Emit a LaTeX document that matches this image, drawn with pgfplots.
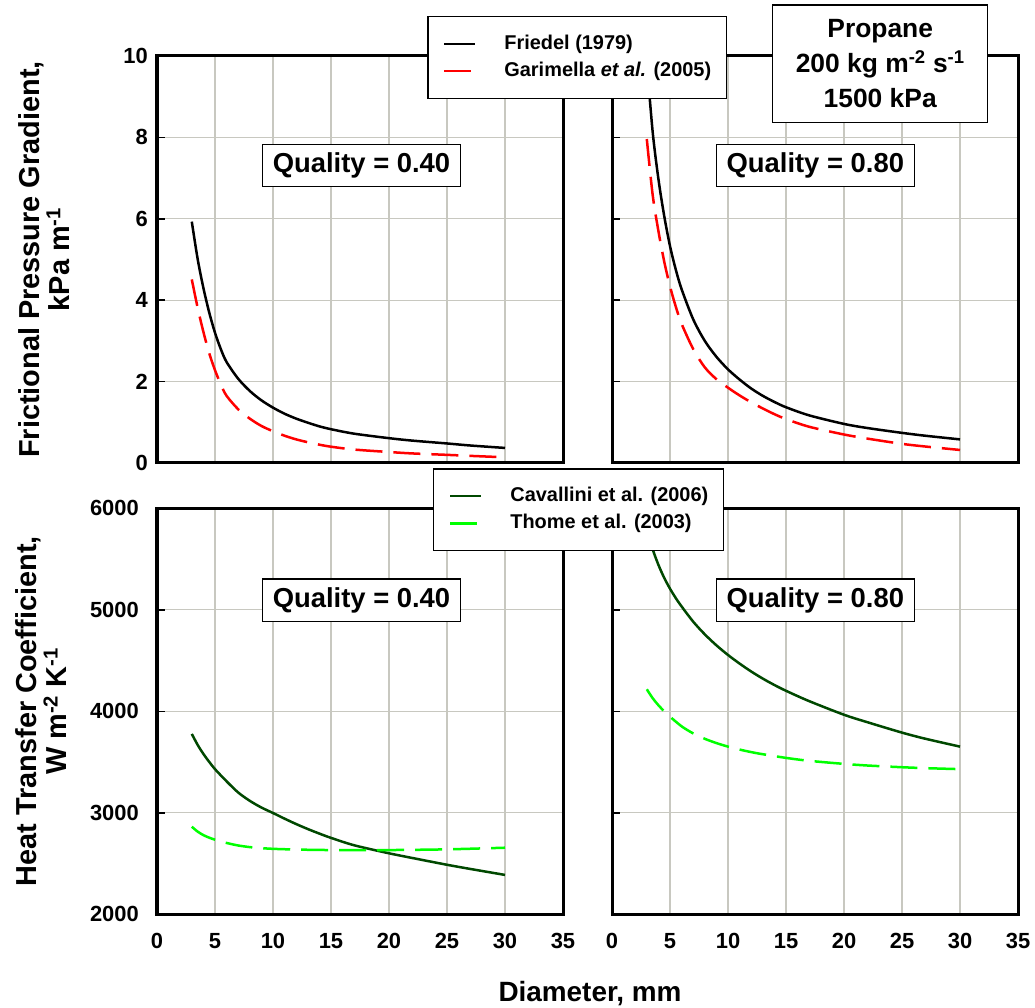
\documentclass[border=0pt]{standalone}
\usepackage{pgfplots}
\pgfplotsset{compat=1.18}
\usepackage{fontspec}
\setmainfont{Liberation Sans}
\definecolor{dkgreen}{RGB}{0,72,0}
\definecolor{ltgreen}{RGB}{0,255,0}
\definecolor{gridc}{RGB}{200,200,192}
\newcommand{\tickfont}{\fontsize{22}{24}\selectfont\bfseries}
\pgfplotsset{
  panel/.style={
    scale only axis, width=406bp, height=406bp,
    xmin=0, xmax=35, xtick={0,5,...,35},
    axis line style={line width=3bp},
    grid=major, grid style={draw=gridc, line width=1.1bp},
    tick align=inside, xtick pos=bottom, ytick pos=left,
    major tick length=8bp,
    xtick style={draw=none},
    ytick style={line width=1.5bp, black},
    /pgf/number format/assume math mode=true,
    /pgf/number format/1000 sep={},
    scaled y ticks=false,
    xticklabel style={font=\tickfont, inner sep=0pt, anchor=north, yshift=-19bp},
    yticklabel style={font=\tickfont, inner sep=0pt, anchor=east},
    legend cell align=left,
    legend image code/.code={\draw[#1, line width=2.5bp] (0bp,0bp) -- (31bp,0bp);},
    ylabel style={align=center, font=\fontsize{29}{30}\selectfont\bfseries, anchor=center},
  },
  leg/.style={
    legend style={
      draw=black, line width=1.2bp, fill=white,
      inner xsep=15bp, inner ysep=18bp,
      font=\fontsize{20}{22}\selectfont\bfseries,
      row sep=8.7bp,
      nodes={inner sep=0pt, text height=14.5bp, text depth=4bp},
      /tikz/every odd column/.append style={column sep=28bp},
    },
  },
  curve/.style={line width=2.5bp, smooth, tension=0.5, mark=none},
  dashedc/.style={dash pattern=on 27bp off 11bp},
}
\begin{document}
\begin{tikzpicture}
% ---------- top right ----------
\begin{axis}[panel, at={(612bp,545bp)}, anchor=south west, height=407bp,
  ymin=0, ymax=10, ytick={0,2,...,10}, xticklabels={}, yticklabels={}]
\addplot[curve, black] coordinates {(3,9.85)(3.5,8.15)(4,6.98)(4.5,6.07)(5,5.33)(5.5,4.75)(6,4.27)(7,3.53)(8,3.0)(9,2.61)(10,2.30)(11,2.05)(12,1.83)(13,1.65)(14,1.50)(15,1.37)(17,1.17)(20,0.96)(22,0.86)(25,0.74)(27,0.67)(30,0.58)};
\addplot[curve, red, dashedc] coordinates {(3,7.96)(3.5,6.6)(4,5.7)(4.5,4.95)(5,4.34)(5.5,3.84)(6,3.42)(7,2.80)(8,2.35)(9,2.06)(10,1.85)(11,1.66)(12,1.49)(13,1.34)(14,1.20)(15,1.08)(17,0.89)(20,0.70)(22,0.60)(25,0.47)(27,0.405)(30,0.32)};
\end{axis}
% ---------- top left ----------
\begin{axis}[panel, leg, at={(157bp,545bp)}, anchor=south west, height=407bp,
  ymin=0, ymax=10, ytick={0,2,...,10}, xticklabels={},
  yticklabel style={xshift=-9bp},
  ylabel={Frictional Pressure Gradient,\\kPa m\textsuperscript{-1}},
  ylabel style={at={(axis description cs:-0.278,0.5)}},
  legend style={at={(axis description cs:0.6658,1.0983)}, anchor=north west}]
\addplot[curve, black] coordinates {(3,5.93)(3.5,5.02)(4,4.30)(4.5,3.70)(5,3.20)(5.5,2.80)(6,2.48)(7,2.07)(8,1.77)(9,1.54)(10,1.36)(11,1.21)(12,1.09)(13,0.99)(14,0.90)(15,0.83)(17,0.72)(20,0.61)(22,0.55)(25,0.48)(27,0.43)(30,0.37)};
\addlegendentry{Friedel (1979)}
\addplot[curve, red, dashedc] coordinates {(3,4.51)(3.5,3.82)(4,3.22)(4.5,2.70)(5,2.28)(5.5,1.93)(6,1.65)(7,1.32)(8,1.09)(9,0.91)(10,0.78)(11,0.67)(12,0.58)(13,0.51)(14,0.45)(15,0.40)(17,0.33)(20,0.27)(22,0.235)(25,0.20)(27,0.175)(30,0.14)};
\addlegendentry{Garimella \textit{et al.} (2005)}
\end{axis}
% ---------- bottom right ----------
\begin{axis}[panel, at={(612bp,93.7bp)}, anchor=south west,
  ymin=2000, ymax=6000, ytick={2000,3000,...,6000}, yticklabels={}]
\addplot[curve, dkgreen] coordinates {(3,5780)(3.5,5598)(4,5443)(4.5,5315)(5,5208)(5.5,5115)(6,5033)(7,4883)(8,4758)(9,4650)(10,4555)(11,4470)(12,4392)(13,4322)(14,4259)(15,4202)(17,4100)(20,3966)(22,3893)(25,3790)(27,3730)(30,3652)};
\addplot[curve, ltgreen, dashedc] coordinates {(3,4217)(3.5,4130)(4,4060)(4.5,4000)(5,3947)(6,3852)(7,3782)(8,3729)(9,3687)(10,3652)(11,3623)(12,3598)(13,3577)(15,3541)(17,3512)(20,3482)(22,3466)(25,3449)(27,3440)(30,3430)};
\end{axis}
% ---------- bottom left ----------
\begin{axis}[panel, leg, at={(157bp,93.7bp)}, anchor=south west,
  ymin=2000, ymax=6000, ytick={2000,3000,...,6000},
  yticklabel style={xshift=-18bp},
  ylabel={Heat Transfer Coefficient,\\W m\textsuperscript{-2} K\textsuperscript{-1}},
  ylabel style={at={(axis description cs:-0.285,0.5)}},
  legend style={at={(axis description cs:0.6805,1.0985)}, anchor=north west}]
\addplot[curve, dkgreen] coordinates {(3,3777)(3.5,3670)(4,3580)(4.5,3502)(5,3430)(6,3310)(7,3200)(8,3118)(9,3052)(10,2998)(11,2942)(12,2889)(13,2840)(14,2795)(15,2753)(17,2680)(20,2601)(22,2555)(25,2488)(27,2447)(30,2388)};
\addlegendentry{Cavallini et al. (2006)}
\addplot[curve, ltgreen, dashedc] coordinates {(3,2863)(3.5,2815)(4,2780)(4.5,2755)(5,2735)(6,2703)(7,2678)(8,2662)(9,2652)(10,2645)(12,2638)(15,2633)(20,2633)(25,2640)(30,2656)};
\addlegendentry{Thome et al. (2003)}
\end{axis}
% ---------- annotations ----------
\tikzset{qbox/.style={draw, line width=1.3bp, fill=white, minimum width=198bp, minimum height=42.5bp, inner sep=0pt, font=\fontsize{27.5}{30}\selectfont\bfseries}}
\node[qbox] at (361.5bp,842.5bp) {Quality = 0.40};
\node[qbox] at (815.3bp,842.5bp) {Quality = 0.80};
\node[qbox] at (361.5bp,407.7bp) {Quality = 0.40};
\node[qbox] at (815.3bp,407.7bp) {Quality = 0.80};
\node[draw, line width=1.3bp, fill=white, minimum width=215bp, minimum height=117.7bp, align=center, inner sep=0pt, font=\fontsize{26.5}{35}\selectfont\bfseries] at (880.2bp,944.2bp) {Propane\\200 kg m\textsuperscript{-2} s\textsuperscript{-1}\\1500 kPa};
\node[anchor=base, inner sep=0pt, font=\fontsize{28}{30}\selectfont\bfseries] at (590bp,6.3bp) {Diameter, mm};
\pgfresetboundingbox
\path[use as bounding box] (0bp,0bp) rectangle (1035bp,1008bp);
\end{tikzpicture}
\end{document}
